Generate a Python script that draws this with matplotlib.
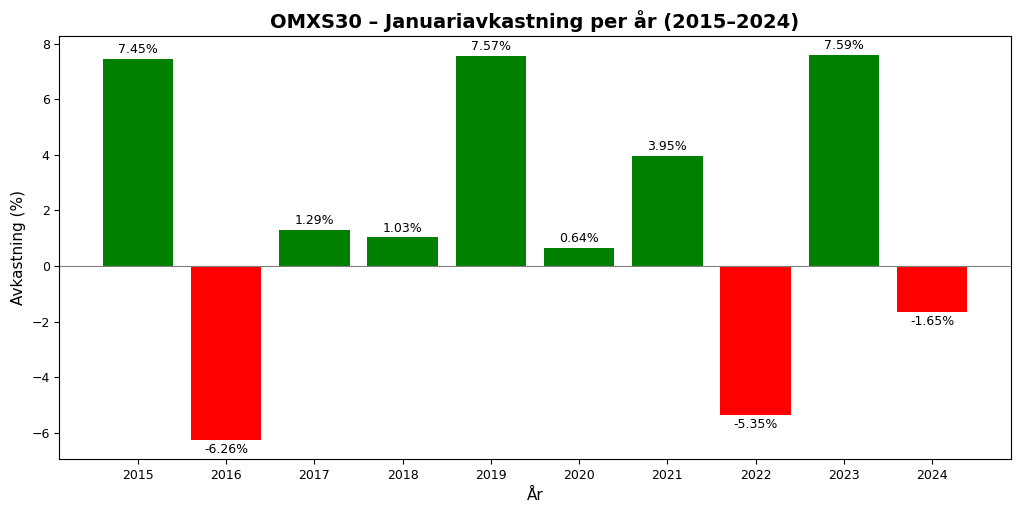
import matplotlib
matplotlib.use('Agg')
import matplotlib.pyplot as plt

# data
years = ['2015', '2016', '2017', '2018', '2019', '2020', '2021', '2022', '2023', '2024']
returns = [7.45, -6.26, 1.29, 1.03, 7.57, 0.64, 3.95, -5.35, 7.59, -1.65]

colors = ['green' if r >= 0 else 'red' for r in returns]

fig, ax = plt.subplots(figsize=(10.24, 5.12), dpi=100)
bars = ax.bar(years, returns, color=colors)
ax.axhline(0, color='gray', linewidth=0.8)

for bar, r in zip(bars, returns):
    x = bar.get_x() + bar.get_width() / 2
    if r >= 0:
        ax.annotate(f'{r:.2f}%', (x, r), xytext=(0, 2), textcoords='offset points',
                    ha='center', va='bottom', fontsize=9)
    else:
        ax.annotate(f'{r:.2f}%', (x, r), xytext=(0, -2), textcoords='offset points',
                    ha='center', va='top', fontsize=9)

ax.set_title('OMXS30 – Januariavkastning per år (2015–2024)', fontsize=14, fontweight='bold')
ax.set_xlabel('År', fontsize=11)
ax.set_ylabel('Avkastning (%)', fontsize=11)
ax.tick_params(labelsize=9)

plt.subplots_adjust(left=0.058, right=0.987, top=0.93, bottom=0.103)
plt.savefig('out.png', dpi=100)
